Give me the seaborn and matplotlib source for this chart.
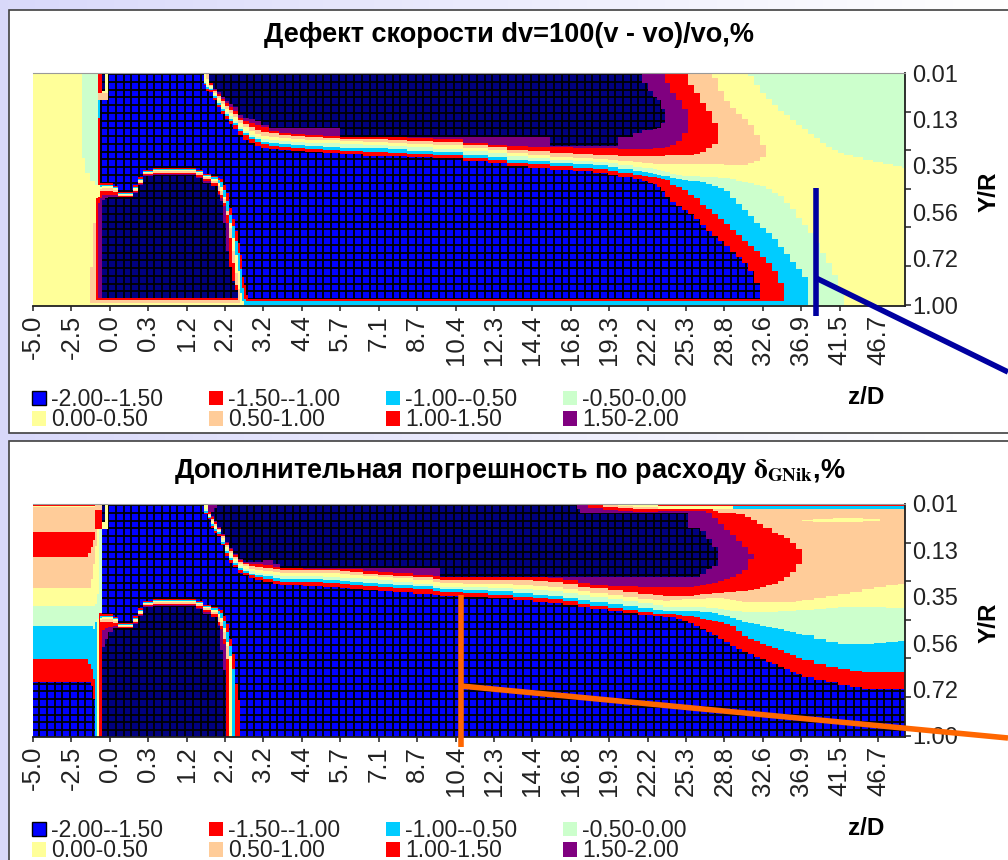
import numpy as np
import pandas as pd
import seaborn as sns
import matplotlib
matplotlib.use("Agg")
import matplotlib.pyplot as plt
from matplotlib.colors import ListedColormap
from matplotlib.patches import Patch, Rectangle
from matplotlib.lines import Line2D

# ---------- tick labels and classes ----------
Z_LABELS = ["-5.0","-2.5","0.0","0.3","1.2","2.2","3.2","4.4","5.7","7.1","8.7","10.4","12.3",
            "14.4","16.8","19.3","22.2","25.3","28.8","32.6","36.9","41.5","46.7"]
YR_LABELS = ["0.01","0.13","0.35","0.56","0.72","1.00"]
CLASS_LABELS = ["-2.00--1.50","-1.50--1.00","-1.00--0.50","-0.50-0.00",
                "0.00-0.50","0.50-1.00","1.00-1.50","1.50-2.00"]
BLUE, RED2, CYAN, GREEN, YELLOW, PEACH, RED, PURPLE, NAVY = range(9)
COLORS = ["#0000ff","#ff0000","#00ccff","#ccffcc","#ffff99","#ffcc99","#ff0000","#800080","#000080"]
NCOLS, NROWS = 872, 233

# ---------- panel 1: level curves read at z stations (grid columns -> grid rows) ----------
P1_X = [171,173,176,180,184,188,192,196,200,205,210,216,222,228,236,246,258,272,290,307,330,355,374,400,
        430,455,474,495,517,540,560,575,585,600,609,615,620,624,628,632,
        637,643,649,655,661,667,673,679,685,691,697,703,709,715,721,727,733,739,745,751,757,763,769,775,
        781,787,793,799,805,811]
P1_N = [0,0,10,16,19,24,28,31,34,42,45,46,48,52,55,55,55,55,55,64,64,64,64,64,64,64,64,64,73,73,73,73,64,60,57,57,56,55,50,44,0]
P1_P = [0,0,10,17,21,26,30,34,38,45,48,50,52,54,58,60,61,62,63,64,64,64,65,66,70,72,73,74,74,75,75,75,76,76,76,76,75,75,75,74,72,68,60,0]
P1_R = [0,0,12,18,23,28,33,37,41,47,51,54,57,59,60,62,63,64,65,66,66,67,68,69,72,74,77,78,80,81,82,82,83,83,83,83,83,83,83,82,
        82,82,82,82,81,79,75,71,0]
P1_O = [0,6,13,20,25,31,36,40,44,50,54,58,61,63,64,65,66,67,67,68,69,70,71,72,75,77,80,82,84,85,86,87,88,89,90,90,91,91,91,91,
        91,91,91,91,91,91,91,91,91,92,92,92,92,90,88,84,0]
P1_Y = [8,12,15,22,28,34,39,43,48,54,58,62,64,66,67,68,69,70,70,71,72,73,74,76,78,80,83,85,87,88,89,90,92,94,95,95,96,97,98,99,
        101,102,103,103,103,104,104,104,105,105,106,108,109,110,112,113,116,120,123,130,136,145,152,160,170,180,190,202,216,233]
P1_G = [10,14,16,23,30,36,41,46,50,56,60,64,66,69,70,71,72,73,74,75,75,76,78,79,82,84,87,88,90,91,92,94,96,98,99,100,101,102,103,103,
        105,106,107,108,108,109,111,113,115,118,125,131,137,143,150,155,160,166,174,181,189,196,204,233]
P1_C = [11,16,17,25,32,38,43,48,52,58,62,66,69,71,73,74,75,76,77,78,79,80,81,82,85,87,90,91,93,95,96,98,100,102,103,104,104,105,106,107,
        112,114,117,122,125,132,136,141,146,151,157,162,168,173,178,184,190,198,210,233]
P1_D = [12,18,19,27,34,41,46,51,56,62,67,70,73,75,76,77,78,79,80,81,83,83,84,85,88,90,93,95,97,98,100,102,104,106,108,110,111,114,118,124,
        129,133,137,141,146,152,158,163,168,173,179,184,190,198,210,233]
P1_NAVY_TOP_X = [609,615,620,624,628,632]
P1_NAVY_TOP = [10,18,24,27,36,233]
P1_PURPLE_TOP_X = [632,637,643,649,655]
P1_PURPLE_TOP = [10,20,27,36,233]
P1_RED_TOP_X = [655,661,667,673,679,685]
P1_RED_TOP = [12,20,30,38,50,233]
P1_PEACH_TOP_X = [679,685,691,697,703,709,715,721,727,733]
P1_PEACH_TOP = [5,18,28,35,41,46,52,62,72,233]
P1_UGREEN_X = [715,721,727,733,739,745,751,757,763,769,775,781,787,793,799,805,811,820,830,840,850,860,869]
P1_UGREEN = [3,12,20,26,32,38,42,47,52,56,61,65,70,74,77,80,82,84,87,89,91,93,95]
# left edge of panel 1
P1_L_X = [49,52,57,62,65,67,69,72,75]
P1_L_GREEN = [85,100,108,112,0]
P1_L_RED_A = [0,0,0,0,20,20,0]
P1_L_PEACH = [0,0,0,0,27,27,27,27,0]
P1_L_CYAN_A = [233,233,233,233,27,233]
P1_L_CYAN_B = [233,233,233,233,45,233]
P1_L_RED_B = [0,0,0,0,112,0]
P1_L_NAVY = [0,0,0,0,0,0,18,0]
P1_L_CREAM = [0,0,0,0,0,0,0,20,0]
P1_BLUE_X = [67,75,171]
P1_BLUE_TOP = [27,0,233]
# pocket below the upstream block, panel 1
PK_X = [57,60,63,65,67,69,72,75,80,85,90,97,100,105,110,120,157,163,170,178,185,187,190,193,196,199,202,205,207,209,211,213,215]
P1_PK_RED2 = [233,233,233,233,110,110,110,110,113,119,119,119,112,104,97,95,95,97,101,103,105,106,112,120,135,146,158,170,182,204,212,222,233]
P1_PK_CYAN = [233,233,233,233,112,112,112,112,114,120,120,120,114,106,98,96,96,98,102,104,107,109,117,128,142,153,168,180,196,215,226,233,233]
P1_PK_YEL = [233,233,233,233,114,113,113,113,115,121,121,121,115,107,99,97,97,99,103,106,110,114,124,138,150,165,182,198,220,228,233,233,233]
P1_PK_PEACH = [194,150,125,125,116,115,115,115,117,122,122,122,117,109,100,98,98,100,104,108,113,118,126,138,155,178,200,216,230,233,233,233,233]
P1_PK_RED = [233,233,125,124,118,118,118,118,119,123,123,123,118,110,101,100,100,102,106,110,118,122,130,142,165,190,212,228,233,233,233,233,233]
P1_PK_PURPLE = [233,233,233,130,125,122,122,122,122,125,125,125,119,111,102,101,101,104,108,113,121,125,133,150,195,233,233,233,233,233,233,233,233]
P1_PK_NAVY = [233,233,233,233,233,127,125,124,124,124,124,124,120,112,103,102,102,105,110,113,122,128,150,178,194,208,217,233,233,233,233,233,233]

# ---------- panel 2 ----------
P2_X = [171,175,178,181,184,188,192,196,200,205,210,216,222,230,240,247,270,290,307,317,330,345,360,380,400,407,
        430,455,480,500,515,530,545,557,575,590,605,620,630,
        637,643,649,655,661,667,673,679,685,691,697,703,709,715,721,727,733,739,745,751,757,763,769,
        781,793,805,817,829,841,853,865]
P2_N = [0,0,12,17,23,30,38,44,50,55,58,58,58,56,60,64,64,64,64,64,64,64,64,64,64,73,
        73,73,73,73,73,73,73,73,73,73,73,73,73,73,73,73,73,73,70,65,62,0]
P2_P = [0,8,13,18,24,31,39,45,51,56,59,60,60,61,63,64,65,65,65,65,67,68,69,71,72,73,
        73,73,73,73,74,76,79,81,82,82,83,83,83,83,83,83,83,82,81,80,79,77,75,73,70,66,55,0]
P2_R = [0,10,15,20,25,32,41,47,53,58,60,62,63,64,65,66,66,66,67,68,70,71,72,73,75,76,
        76,76,76,77,78,80,83,84,86,88,90,91,92,92,92,92,92,91,90,90,89,89,88,88,87,87,86,85,83,81,80,77,73,68,60,0]
P2_O = [0,11,17,22,26,34,43,49,55,60,62,65,66,67,68,69,69,69,70,71,72,73,74,76,78,79,
        80,80,81,82,83,85,87,89,91,93,95,96,97,96,96,95,95,95,95,94,94,94,95,96,97,98,98,98,98,98,98,98,98,98,97,96,
        94,92,90,88,85,83,81,80]
P2_Y = [5,12,19,24,27,36,45,52,57,62,65,67,69,70,71,72,72,73,74,74,75,76,78,80,82,83,
        83,84,85,86,87,89,91,93,95,97,99,101,103,103,103,103,103,103,103,104,104,105,106,107,107,108,108,108,108,108,108,107,107,107,106,106,
        105,104,103,103,103,103,104,104]
P2_G = [7,13,20,25,28,38,47,54,59,64,67,70,71,72,74,75,75,76,77,78,79,80,81,82,84,85,
        86,87,89,91,92,94,96,98,100,102,104,106,107,107,107,107,107,107,108,108,109,111,112,114,116,118,119,120,122,123,124,125,127,128,130,131,
        135,138,140,140,140,139,138,137]
P2_C = [9,14,22,27,30,40,49,56,61,66,69,71,73,75,77,78,78,79,80,81,82,83,84,85,87,88,
        89,91,93,94,95,97,100,102,104,106,108,110,110,110,111,112,112,113,115,116,117,118,120,122,127,132,135,137,140,142,144,146,149,151,154,156,
        160,163,165,167,168,168,168,168]
P2_D = [10,15,24,29,32,41,52,59,63,69,71,74,76,78,80,81,82,83,84,85,86,87,88,90,91,92,
        93,94,96,98,99,101,103,105,107,109,111,112,113,113,115,117,119,122,125,128,131,135,138,142,145,148,150,153,155,158,160,163,165,168,170,173,
        176,178,181,183,185,185,185,185]
P2_NAVY_TOP_X = [178,181,184,540,544,547,655,667,673,679,685]
P2_NAVY_TOP = [8,4,0,0,5,9,24,27,35,43,233]
P2_PURPLE_TOP_X = [667,673,679,685,691,697,703,709,715,721]
P2_PURPLE_TOP = [5,9,14,20,26,31,37,43,50,233]
P2_RED_TOP_X = [679,685,703,712,718,724,730,739,745,751,757,763,769]
P2_RED_TOP = [7,9,10,13,16,20,24,29,31,34,39,45,233]
# thin layers along the wall, panel 2
P2_S_RED_X = [555,570,585,600,625,680]
P2_S_RED_TOP = [0,3,4,5,5,0]
P2_S_RED_BOT = [4,6,7,8,7,0]
P2_S_PEACH_X = [570,585,600,640]
P2_S_PEACH_TOP = [0,2,3,0]
P2_S_PEACH_BOT = [3,4,5,0]
P2_S_YEL_X = [585,600,625,700]
P2_S_YEL_TOP = [0,1,2,0]
P2_S_YEL_BOT = [2,3,5,0]
P2_S_CYAN_X = [600,625,700,869]
P2_S_CYAN_TOP = [0,0,2,2]
P2_S_CYAN_BOT = [1,2,5,5]
P2_S_LINE_X = [625]
P2_S_LINE_BOT = [2]
P2_STREAK_X = [769,780,800,830,847]
P2_STREAK_TOP = [16,15,14,15,233]
P2_STREAK_BOT = [17,18,18,17,233]
# horizontal bands at the left edge, panel 2
P2_L_X = [0,55,58,60,62,64,66,69]
P2_L_PEACH1_TOP = [3,3,3,3,0,0,0,0]
P2_L_PEACH1_BOT = [28,28,28,28,6,6,6,0]
P2_L_RED1_TOP = [28,28,28,28,6,6,6,0]
P2_L_RED1_BOT = [53,49,43,36,25,25,25,0]
P2_L_PEACH2_TOP = [53,49,43,36,25,0,0,0]
P2_L_PEACH2_BOT = [84,84,75,60,42,0,0,0]
P2_L_GREEN_TOP = [102,102,102,102,100,90,25,0]
P2_L_GREEN_BOT = [122,122,122,125,118,115,109,0]
P2_L_CYAN_TOP = [122,122,122,125,118,0,0,0]
P2_L_CYAN_BOT = [155,160,165,175,233,0,0,0]
P2_L_RED2_TOP = [155,160,165,175,0,0,109,0]
P2_L_RED2_BOT = [178,178,182,195,0,0,233,0]
P2_L_BLUE_TOP = [178,178,182,195,0,0,0,0]
P2_L_BLUE_BOT = [233,233,233,233,0,0,0,0]
P2_L_WALL_X = [0,62]
P2_L_WALL_BOT = [2,0]
P2_C_X = [69,72,75]
P2_C_NAVY = [18,0,0]
P2_C_CREAM = [0,20,0]
P2_BLUE_X = [69,75,171]
P2_BLUE_TOP = [25,0,233]
P2_PK_RED2 = [233,233,233,233,110,110,110,110,113,119,119,119,112,104,97,95,95,97,101,103,105,106,112,120,135,150,180,196,233,233,233,233,233]
P2_PK_CYAN = [233,233,233,233,112,112,112,112,114,120,120,120,114,106,98,96,96,98,102,104,107,109,117,128,142,165,233,233,233,233,233,233,233]
P2_PK_YEL = [233,233,233,233,114,113,113,113,115,121,121,121,115,107,99,97,97,99,103,106,110,114,124,138,152,233,233,233,233,233,233,233,233]
P2_PK_PEACH = [233,233,233,233,116,115,115,115,117,122,122,122,117,109,100,98,98,100,104,108,113,118,128,142,233,233,233,233,233,233,233,233,233]
P2_PK_RED = [233,233,233,233,118,118,118,118,119,123,123,123,118,110,101,100,100,102,106,110,118,122,135,155,233,233,233,233,233,233,233,233,233]
P2_PK_PURPLE = [233,233,233,233,233,126,124,123,122,125,125,125,119,111,102,101,101,104,108,113,121,125,140,233,233,233,233,233,233,233,233,233,233]
P2_PK_NAVY = [233,233,233,233,233,143,135,128,124,124,124,124,120,112,103,102,102,105,110,113,122,146,166,233,233,233,233,233,233,233,233,233,233]


def held(xs, vals, default=0):
    out = np.full(NCOLS, default)
    for x, v in zip(xs, vals):
        out[x:] = v
    return out


def fill(grid, cls, top, bot):
    top = np.broadcast_to(top, (NCOLS,))
    bot = np.broadcast_to(bot, (NCOLS,))
    for c in range(NCOLS):
        grid[top[c]:bot[c], c] = cls


def panel1_grid():
    g = np.full((NROWS, NCOLS), YELLOW)
    fill(g, GREEN, 0, held(P1_UGREEN_X, P1_UGREEN))
    fill(g, GREEN, 0, held(P1_L_X, P1_L_GREEN))
    fill(g, RED, 0, held(P1_L_X, P1_L_RED_A))
    fill(g, PEACH, 20, held(P1_L_X, P1_L_PEACH))
    fill(g, CYAN, held(P1_L_X, P1_L_CYAN_A, 233), held(P1_L_X, P1_L_CYAN_B))
    fill(g, RED, 45, held(P1_L_X, P1_L_RED_B))
    fill(g, NAVY, 0, held(P1_L_X, P1_L_NAVY))
    fill(g, YELLOW, 0, held(P1_L_X, P1_L_CREAM))
    fill(g, BLUE, held(P1_BLUE_X, P1_BLUE_TOP, 233), 226)
    fill(g, PEACH, held(P1_PEACH_TOP_X, P1_PEACH_TOP), held(P1_X, P1_O))
    fill(g, RED, held(P1_RED_TOP_X, P1_RED_TOP), held(P1_X, P1_R))
    fill(g, PURPLE, held(P1_PURPLE_TOP_X, P1_PURPLE_TOP), held(P1_X, P1_P))
    fill(g, NAVY, held(P1_NAVY_TOP_X, P1_NAVY_TOP), held(P1_X, P1_N))
    fill(g, GREEN, held(P1_X, P1_Y, 233), 233)
    fill(g, CYAN, held(P1_X, P1_G, 233), 232)
    fill(g, RED2, held(P1_X, P1_C, 233), 228)
    fill(g, BLUE, held(P1_X, P1_D, 233), 226)
    fill(g, RED2, held(PK_X, P1_PK_RED2, 233), 228)
    fill(g, CYAN, held(PK_X, P1_PK_CYAN, 233), 232)
    fill(g, YELLOW, held(PK_X, P1_PK_YEL, 233), 233)
    fill(g, PEACH, held(PK_X, P1_PK_PEACH, 233), 230)
    fill(g, RED, held(PK_X, P1_PK_RED, 233), 227)
    fill(g, PURPLE, held(PK_X, P1_PK_PURPLE, 233), 225)
    fill(g, NAVY, held(PK_X, P1_PK_NAVY, 233), 225)
    return g


def panel2_grid():
    g = np.full((NROWS, NCOLS), YELLOW)
    fill(g, PEACH, held(P2_L_X, P2_L_PEACH1_TOP), held(P2_L_X, P2_L_PEACH1_BOT))
    fill(g, RED, held(P2_L_X, P2_L_RED1_TOP), held(P2_L_X, P2_L_RED1_BOT))
    fill(g, PEACH, held(P2_L_X, P2_L_PEACH2_TOP), held(P2_L_X, P2_L_PEACH2_BOT))
    fill(g, GREEN, held(P2_L_X, P2_L_GREEN_TOP), held(P2_L_X, P2_L_GREEN_BOT))
    fill(g, CYAN, held(P2_L_X, P2_L_CYAN_TOP), held(P2_L_X, P2_L_CYAN_BOT))
    fill(g, RED2, held(P2_L_X, P2_L_RED2_TOP), held(P2_L_X, P2_L_RED2_BOT))
    fill(g, BLUE, held(P2_L_X, P2_L_BLUE_TOP), held(P2_L_X, P2_L_BLUE_BOT))
    fill(g, RED, 0, held(P2_L_WALL_X, P2_L_WALL_BOT))
    fill(g, NAVY, 0, held(P2_C_X, P2_C_NAVY))
    fill(g, YELLOW, 0, held(P2_C_X, P2_C_CREAM))
    fill(g, BLUE, held(P2_BLUE_X, P2_BLUE_TOP, 233), 233)
    fill(g, PEACH, 0, held(P2_X, P2_O))
    fill(g, RED, held(P2_RED_TOP_X, P2_RED_TOP), held(P2_X, P2_R))
    fill(g, PURPLE, held(P2_PURPLE_TOP_X, P2_PURPLE_TOP), held(P2_X, P2_P))
    fill(g, NAVY, held(P2_NAVY_TOP_X, P2_NAVY_TOP), held(P2_X, P2_N))
    fill(g, GREEN, held(P2_X, P2_Y, 233), 233)
    fill(g, CYAN, held(P2_X, P2_G, 233), 233)
    fill(g, RED2, held(P2_X, P2_C, 233), 233)
    fill(g, BLUE, held(P2_X, P2_D, 233), 233)
    fill(g, RED, held(P2_S_RED_X, P2_S_RED_TOP), held(P2_S_RED_X, P2_S_RED_BOT))
    fill(g, PEACH, held(P2_S_PEACH_X, P2_S_PEACH_TOP), held(P2_S_PEACH_X, P2_S_PEACH_BOT))
    fill(g, YELLOW, held(P2_S_YEL_X, P2_S_YEL_TOP), held(P2_S_YEL_X, P2_S_YEL_BOT))
    fill(g, CYAN, held(P2_S_CYAN_X, P2_S_CYAN_TOP), held(P2_S_CYAN_X, P2_S_CYAN_BOT))
    fill(g, RED, 0, held(P2_S_LINE_X, P2_S_LINE_BOT))
    fill(g, YELLOW, held(P2_STREAK_X, P2_STREAK_TOP), held(P2_STREAK_X, P2_STREAK_BOT))
    fill(g, RED2, held(PK_X, P2_PK_RED2, 233), 233)
    fill(g, CYAN, held(PK_X, P2_PK_CYAN, 233), 233)
    fill(g, YELLOW, held(PK_X, P2_PK_YEL, 233), 233)
    fill(g, PEACH, held(PK_X, P2_PK_PEACH, 233), 233)
    fill(g, RED, held(PK_X, P2_PK_RED, 233), 233)
    fill(g, PURPLE, held(PK_X, P2_PK_PURPLE, 233), 233)
    fill(g, NAVY, held(PK_X, P2_PK_NAVY, 233), 233)
    return g


sns.set_theme(style="white")
plt.rcParams["font.family"] = ["Liberation Sans", "DejaVu Sans"]
plt.rcParams["mathtext.fontset"] = "stix"

W, H = 1008, 860
fig = plt.figure(figsize=(W / 100, H / 100), dpi=100)

# backdrop and panel frames, in pixel coordinates of the picture
bg = fig.add_axes([0, 0, 1, 1], zorder=-5)
bg.imshow(np.linspace(0, 1, 256)[None, :], cmap=ListedColormap(
    np.column_stack([np.linspace(.85, 1, 256), np.linspace(.85, 1, 256), np.linspace(.98, 1, 256)])),
    extent=(0, W, H, 0), aspect="auto")
bg.set_xlim(0, W); bg.set_ylim(H, 0); bg.axis("off")
for top, bottom in [(10, 432.5), (441, 880)]:
    bg.add_patch(Rectangle((9, top), W + 20, bottom - top, fc="white", ec="#404040", lw=1.2))

cmap = ListedColormap(COLORS)
CELL_W, CELL_H = NCOLS / 113.5, NROWS / 30


def draw_panel(grid, y0, title, title_x, title_gap):
    ax = fig.add_axes([33 / W, 1 - (y0 + NROWS) / H, NCOLS / W, NROWS / H], zorder=1)
    df = pd.DataFrame(grid)
    dark = (grid == BLUE) | (grid == NAVY)
    sns.heatmap(df, mask=~dark, cmap=cmap, vmin=-0.5, vmax=8.5, cbar=False, ax=ax,
                xticklabels=False, yticklabels=False)
    ax.collections[-1].set_zorder(1)
    ax.vlines(np.arange(0, NCOLS, CELL_W) - 1.5, 0, NROWS, color="black", lw=1.3, zorder=2)
    ax.hlines(np.arange(0, NROWS, CELL_H) + 1, 0, NCOLS, color="black", lw=1.3, zorder=2)
    sns.heatmap(df, mask=dark, cmap=cmap, vmin=-0.5, vmax=8.5, cbar=False, ax=ax,
                xticklabels=False, yticklabels=False)
    ax.collections[-1].set_zorder(3)
    ax.set_xlim(0, NCOLS); ax.set_ylim(NROWS, 0)
    for s in ax.spines.values():
        s.set_visible(False); s.set_zorder(5)
    for name in ("right", "bottom"):
        ax.spines[name].set_visible(True)
        ax.spines[name].set_color("#202020")
        ax.spines[name].set_linewidth(1.3)
    ax.spines["top"].set_visible(True)
    ax.spines["top"].set_color("#999999")
    ax.spines["top"].set_linewidth(0.8)

    ax.set_xticks(np.arange(len(Z_LABELS)) * 5 * CELL_W)
    ax.set_xticklabels(Z_LABELS, rotation=90, fontsize=18.5, color="#222222")
    ax.tick_params(axis="x", length=3.5, width=1.1, color="#202020", pad=3, bottom=True)
    ax.yaxis.tick_right()
    ax.set_yticks(np.arange(len(YR_LABELS)) * (NROWS - 1) / 5)
    ax.set_yticklabels(YR_LABELS, fontsize=17, color="#222222")
    ax.tick_params(axis="y", which="major", length=0, pad=5, right=True)
    ax.set_yticks(np.arange(7) * 38.6, minor=True)
    ax.tick_params(axis="y", which="minor", length=4, width=1.1, color="#202020", right=True, left=False)

    ax.set_xlabel("z/D", fontweight="bold", fontsize=17.5, color="black")
    ax.xaxis.set_label_coords(833 / NCOLS, -80 / NROWS)
    ax.set_ylabel("Y/R", fontweight="bold", fontsize=17.5, color="black", rotation=90)
    ax.yaxis.set_label_position("right")
    ax.yaxis.set_label_coords(945 / NCOLS, 0.49)

    fig.text(title_x / W, 1 - (y0 - title_gap) / H, title, ha="center", va="center",
             fontsize=19.5, fontweight="bold", color="black")

    order = [BLUE, YELLOW, RED2, PEACH, CYAN, RED, GREEN, PURPLE]
    handles = [Patch(fc=COLORS[c], ec="black" if c == BLUE else COLORS[c], lw=1 if c == BLUE else 0,
                     label=CLASS_LABELS[c]) for c in order]
    leg = ax.legend(handles=handles, ncol=4, frameon=False, loc="upper left",
                    bbox_to_anchor=(-1 / NCOLS, -82 / NROWS), borderpad=0, borderaxespad=0,
                    fontsize=16.5, handlelength=0.62, handleheight=0.62, handletextpad=0.22,
                    columnspacing=1.99, labelspacing=-0.11, labelcolor="#222222")
    leg.set_zorder(6)
    return ax


draw_panel(panel1_grid(), 73, "Дефект скорости dv=100(v - vo)/vo,%", 509, 38)
draw_panel(panel2_grid(), 504,
           r"Дополнительная погрешность по расходу $\mathbf{\delta_{GNik}}$,%", 510, 32)

# annotation leaders
top = fig.add_axes([0, 0, 1, 1], zorder=10)
top.set_xlim(0, W); top.set_ylim(H, 0); top.axis("off"); top.patch.set_alpha(0)
top.add_line(Line2D([816, 816], [188, 316], color="#0000a0", lw=4, solid_capstyle="butt"))
top.add_line(Line2D([816, 1008], [278, 372], color="#0000a0", lw=4, solid_capstyle="butt"))
top.add_line(Line2D([461, 461], [595, 747], color="#ff6600", lw=4, solid_capstyle="butt"))
top.add_line(Line2D([461, 1008], [686, 738], color="#ff6600", lw=4, solid_capstyle="butt"))

fig.savefig("out.png", dpi=100)
